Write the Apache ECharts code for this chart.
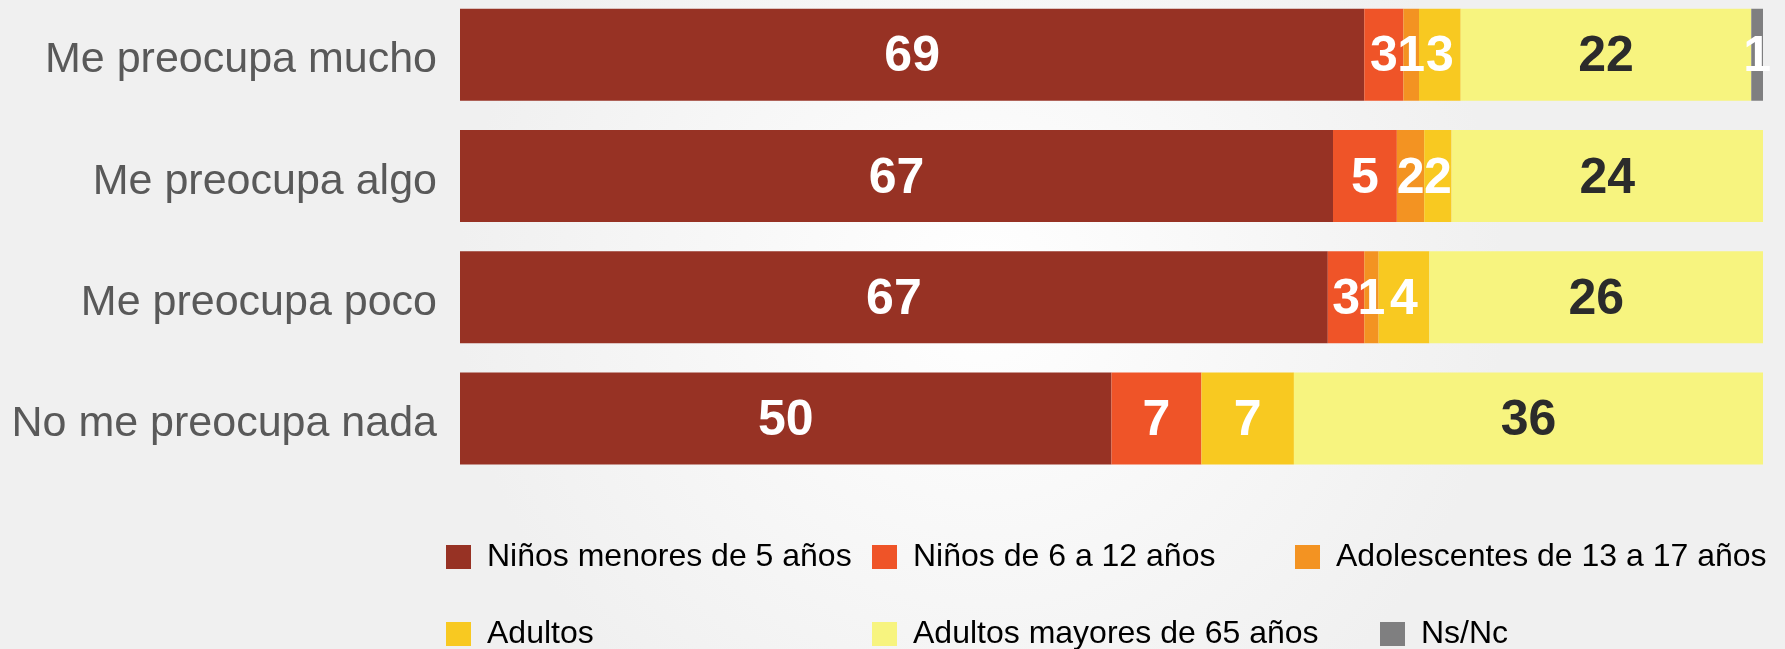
<!DOCTYPE html>
<html>
<head>
<meta charset="utf-8">
<script src="https://cdn.jsdelivr.net/npm/echarts@6/dist/echarts.min.js"></script>
<style>
  html, body { margin: 0; padding: 0; overflow: hidden; background: #f4f4f4; }
  /* the top bar sits a little higher than a zero grid top allows, so the canvas is nudged up */
  #chart { position: absolute; left: 0; top: -6px; width: 1785px; height: 655px; }
</style>
</head>
<body>
<div id="chart"></div>
<script>
// data (percent of each row)
const categories = ['Me preocupa mucho', 'Me preocupa algo', 'Me preocupa poco', 'No me preocupa nada']
const seriesNames = ['Niños menores de 5 años', 'Niños de 6 a 12 años', 'Adolescentes de 13 a 17 años',
  'Adultos', 'Adultos mayores de 65 años', 'Ns/Nc']
const ninosMenores5 = [69.4, 67.0, 66.6, 50.0]
const ninos6a12 = [3.0, 4.9, 2.8, 6.9]
const adolescentes = [1.2, 2.1, 1.1, 0]
const adultos = [3.2, 2.1, 3.9, 7.1]
const adultosMayores = [22.3, 23.9, 25.6, 36.0]
const nsnc = [0.9, 0, 0, 0]

const colors = ['#973224', '#ef5428', '#f39322', '#f8c921', '#f7f47f', '#7f7f80']
const labelColors = ['#fff', '#fff', '#fff', '#fff', '#2b2b2b', '#fff']
const values = [ninosMenores5, ninos6a12, adolescentes, adultos, adultosMayores, nsnc]

const series = seriesNames.map((name, i) => ({
  name: name,
  type: 'bar',
  stack: 'total',
  barWidth: 92,
  itemStyle: { color: colors[i] },
  label: {
    show: true,
    position: 'inside',
    offset: [0, 3],
    color: labelColors[i],
    fontFamily: 'Liberation Sans',
    fontWeight: 'bold',
    fontSize: 50,
    formatter: p => p.value > 0 ? Math.round(p.value) : ''
  },
  data: values[i]
}))

// legend entries are placed one by one, as in the reference (canvas coords, +6 for the nudge)
const legendPos = [[446, 547], [872, 547], [1295, 547], [446, 624], [872, 624], [1380, 624]]
const legend = seriesNames.map((name, i) => ({
  data: [name],
  left: legendPos[i][0],
  top: legendPos[i][1],
  padding: 0,
  icon: 'rect',
  itemWidth: 25,
  itemHeight: 24,
  selectedMode: false,
  textStyle: {
    color: '#000',
    fontSize: 32,
    lineHeight: 24,
    fontFamily: 'Liberation Sans',
    padding: [0, 0, 0, 11]
  }
}))

const chart = echarts.init(document.getElementById('chart'))
chart.setOption({
  backgroundColor: {
    type: 'radial', x: 0.55, y: 0.45, r: 0.8,
    colorStops: [{ offset: 0, color: '#ffffff' }, { offset: 1, color: '#f0f0f0' }]
  },
  animation: false,
  legend: legend,
  grid: { left: 460, right: 22, top: 0, bottom: 170 },
  xAxis: { type: 'value', min: 0, max: 100, show: false },
  yAxis: {
    type: 'category',
    inverse: true,
    data: categories,
    axisLine: { show: false },
    axisTick: { show: false },
    axisLabel: {
      color: '#595959',
      fontSize: 43,
      fontFamily: 'Liberation Sans',
      margin: 23,
      verticalAlign: 'top',
      lineHeight: 12
    }
  },
  series: series
})
</script>
</body>
</html>
